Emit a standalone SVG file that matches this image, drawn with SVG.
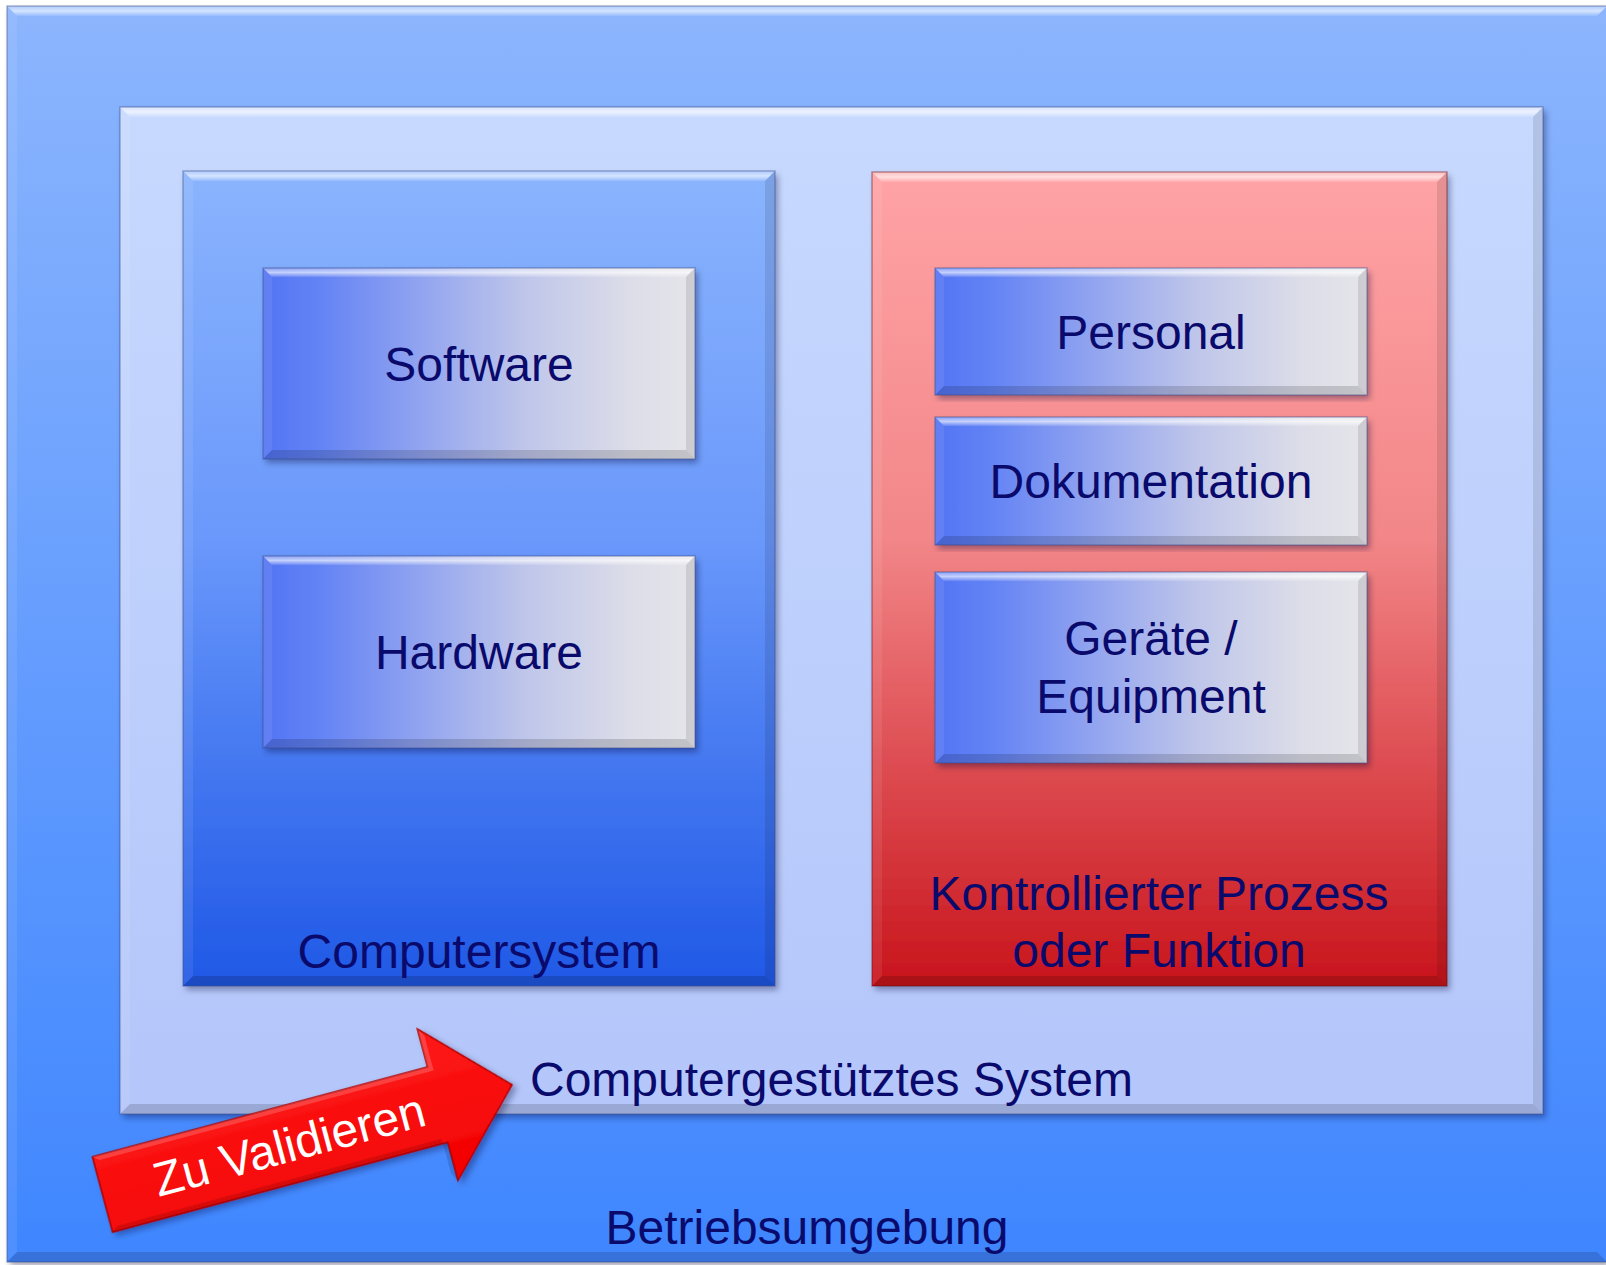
<svg xmlns="http://www.w3.org/2000/svg" width="1606" height="1265" viewBox="0 0 1606 1265">
<style>
text{font-family:"Liberation Sans",Arial,sans-serif;font-size:48px;fill:#0a0a6c;text-anchor:middle}
.bt{fill:url(#gHi)}
.bl{fill:#ffffff;opacity:.08}
.br{fill:#000000;opacity:.1}
.bb{fill:#000000;opacity:.15}
.edge{fill:none;stroke:#3a4c8a;stroke-opacity:.4;stroke-width:1.5}
.wt{fill:#ffffff;text-anchor:middle}
</style>
<defs>
<linearGradient id="gHi" x1="0" y1="0" x2="0" y2="1">
<stop offset="0" stop-color="#ffffff" stop-opacity="0.3"/><stop offset="0.5" stop-color="#ffffff" stop-opacity="0.65"/><stop offset="1" stop-color="#ffffff" stop-opacity="0.1"/>
</linearGradient>
<linearGradient id="gOuter" x1="0" y1="0" x2="0" y2="1">
<stop offset="0" stop-color="#8cb5fd"/><stop offset="1" stop-color="#3f86ff"/>
</linearGradient>
<linearGradient id="gInner" x1="0" y1="0" x2="0" y2="1">
<stop offset="0" stop-color="#c7d9fe"/><stop offset="1" stop-color="#b4c6fa"/>
</linearGradient>
<linearGradient id="gComp" x1="0" y1="0" x2="0" y2="1">
<stop offset="0" stop-color="#8ab4fd"/><stop offset="0.45" stop-color="#6a98fb"/><stop offset="1" stop-color="#1f58e6"/>
</linearGradient>
<linearGradient id="gRed" x1="0" y1="0" x2="0" y2="1">
<stop offset="0" stop-color="#ffa3a6"/><stop offset="0.45" stop-color="#f28688"/><stop offset="1" stop-color="#c8141c"/>
</linearGradient>
<linearGradient id="gItem" x1="0" y1="0" x2="1" y2="0">
<stop offset="0" stop-color="#5374f4"/><stop offset="0.12" stop-color="#6182f5"/><stop offset="0.35" stop-color="#8fa2f0"/><stop offset="0.6" stop-color="#bec5ea"/><stop offset="0.85" stop-color="#dcdde8"/><stop offset="1" stop-color="#e5e5ea"/>
</linearGradient>
<linearGradient id="gArrow" x1="0" y1="0" x2="0" y2="1">
<stop offset="0" stop-color="#ff1a1a"/><stop offset="1" stop-color="#f20000"/>
</linearGradient>
<filter id="sh" x="-5%" y="-5%" width="110%" height="110%">
<feDropShadow dx="3" dy="4" stdDeviation="3" flood-color="#000030" flood-opacity="0.35"/>
</filter>
</defs>

<g id="betriebsumgebung">
<rect x="7" y="6" width="1600" height="1256" fill="url(#gOuter)" filter="url(#sh)"/>
<polygon class="bt" points="7,6 1607,6 1597,16 17,16"/>
<polygon class="bl" points="7,6 17,16 17,1252 7,1262"/>
<polygon class="bb" points="7,1262 17,1252 1597,1252 1607,1262"/>
<rect class="edge" x="7" y="6" width="1600" height="1256"/>
<text x="807" y="1244">Betriebsumgebung</text>
</g>

<g id="computergestuetztes-system">
<rect x="120" y="107" width="1423" height="1007" fill="url(#gInner)" filter="url(#sh)"/>
<polygon class="bt" points="120,107 1543,107 1533,117 130,117"/>
<polygon class="bl" points="120,107 130,117 130,1104 120,1114"/>
<polygon class="br" points="1543,107 1543,1114 1533,1104 1533,117"/>
<polygon class="bb" points="120,1114 130,1104 1533,1104 1543,1114"/>
<rect class="edge" x="120" y="107" width="1423" height="1007"/>
<text x="530" y="1096" style="text-anchor:start">Computergestütztes System</text>
</g>

<g id="computersystem">
<rect x="183" y="171" width="592" height="815" fill="url(#gComp)" filter="url(#sh)"/>
<polygon class="bt" points="183,171 775,171 765,181 193,181"/>
<polygon class="bl" points="183,171 193,181 193,976 183,986"/>
<polygon class="br" points="775,171 775,986 765,976 765,181"/>
<polygon class="bb" points="183,986 193,976 765,976 775,986"/>
<rect class="edge" x="183" y="171" width="592" height="815"/>
<text x="479" y="968">Computersystem</text>
</g>

<g id="kontrollierter-prozess">
<rect x="872" y="172" width="575" height="814" fill="url(#gRed)" filter="url(#sh)"/>
<polygon class="bt" points="872,172 1447,172 1437,182 882,182"/>
<polygon class="bl" points="872,172 882,182 882,976 872,986"/>
<polygon class="br" points="1447,172 1447,986 1437,976 1437,182"/>
<polygon class="bb" points="872,986 882,976 1437,976 1447,986"/>
<rect class="edge" x="872" y="172" width="575" height="814" style="stroke:#6a0a0a"/>
<text x="1159" y="910">Kontrollierter Prozess</text>
<text x="1159" y="967">oder Funktion</text>
</g>

<g id="software">
<rect x="263" y="268" width="432" height="191" fill="url(#gItem)" filter="url(#sh)"/>
<polygon class="bt" points="263,268 695,268 686,277 272,277"/>
<polygon class="bl" points="263,268 272,277 272,450 263,459"/>
<polygon class="br" points="695,268 695,459 686,450 686,277"/>
<polygon class="bb" points="263,459 272,450 686,450 695,459"/>
<rect class="edge" x="263" y="268" width="432" height="191"/>
<text x="479" y="381">Software</text>
</g>

<g id="hardware">
<rect x="263" y="556" width="432" height="192" fill="url(#gItem)" filter="url(#sh)"/>
<polygon class="bt" points="263,556 695,556 686,565 272,565"/>
<polygon class="bl" points="263,556 272,565 272,739 263,748"/>
<polygon class="br" points="695,556 695,748 686,739 686,565"/>
<polygon class="bb" points="263,748 272,739 686,739 695,748"/>
<rect class="edge" x="263" y="556" width="432" height="192"/>
<text x="479" y="669">Hardware</text>
</g>

<g id="personal">
<rect x="935" y="268" width="432" height="127" fill="url(#gItem)" filter="url(#sh)"/>
<polygon class="bt" points="935,268 1367,268 1358,277 944,277"/>
<polygon class="bl" points="935,268 944,277 944,386 935,395"/>
<polygon class="br" points="1367,268 1367,395 1358,386 1358,277"/>
<polygon class="bb" points="935,395 944,386 1358,386 1367,395"/>
<rect class="edge" x="935" y="268" width="432" height="127"/>
<text x="1151" y="349">Personal</text>
</g>

<g id="dokumentation">
<rect x="935" y="417" width="432" height="128" fill="url(#gItem)" filter="url(#sh)"/>
<polygon class="bt" points="935,417 1367,417 1358,426 944,426"/>
<polygon class="bl" points="935,417 944,426 944,536 935,545"/>
<polygon class="br" points="1367,417 1367,545 1358,536 1358,426"/>
<polygon class="bb" points="935,545 944,536 1358,536 1367,545"/>
<rect class="edge" x="935" y="417" width="432" height="128"/>
<text x="1151" y="498">Dokumentation</text>
</g>

<g id="geraete">
<rect x="935" y="572" width="432" height="191" fill="url(#gItem)" filter="url(#sh)"/>
<polygon class="bt" points="935,572 1367,572 1358,581 944,581"/>
<polygon class="bl" points="935,572 944,581 944,754 935,763"/>
<polygon class="br" points="1367,572 1367,763 1358,754 1358,581"/>
<polygon class="bb" points="935,763 944,754 1358,754 1367,763"/>
<rect class="edge" x="935" y="572" width="432" height="191"/>
<text x="1151" y="655">Geräte /</text>
<text x="1151" y="713">Equipment</text>
</g>

<g id="connectors"/>

<g id="zu-validieren" transform="translate(102.5,1194.5) rotate(-15)">
<polygon points="0,-39 347,-39 347,-78.5 424,0 347,78.5 347,39 0,39" fill="url(#gArrow)" stroke="#b00000" stroke-width="1.5" filter="url(#sh)"/>
<polygon points="0,-39 347,-39 347,-78.5 352,-70 352,-34 6,-34" fill="#ffffff" opacity="0.18"/>
<polygon points="0,39 347,39 347,78.5 342,70 342,34 6,34" fill="#000000" opacity="0.12"/>
<text class="wt" x="193" y="17">Zu Validieren</text>
</g>
</svg>
